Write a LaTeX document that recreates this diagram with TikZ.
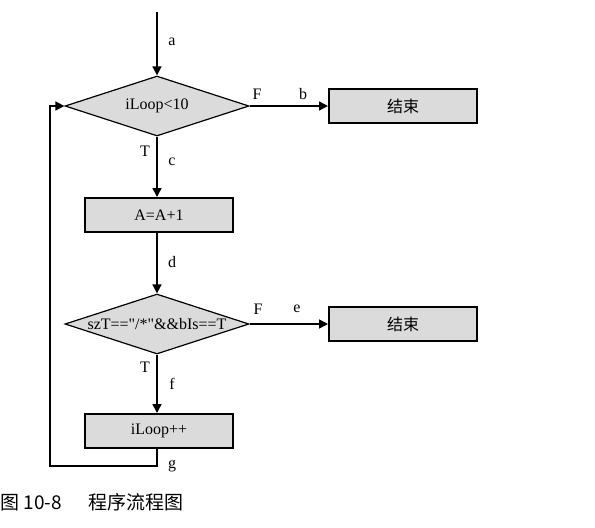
\documentclass[tikz,border=0pt]{standalone}
\usepackage{fontspec}
\setmainfont{Liberation Serif}
\newfontfamily\cjk{Noto Sans CJK SC}
\usetikzlibrary{positioning,arrows.meta,shapes.geometric}

\begin{document}
\begin{tikzpicture}[x=0.5pt,y=-0.5pt,font=\fontsize{8}{9.5}\selectfont,
    box/.style={draw,line width=1pt,fill=gray!28,minimum width=74pt,minimum height=17pt,inner sep=0pt},
    cond/.style={diamond,draw,line width=0.6pt,fill=gray!28,minimum width=92pt,minimum height=30pt,aspect=3,inner sep=0pt},
    flow/.style={line width=0.75pt,-{Triangle[length=4.5pt,width=4.5pt]}},
    lbl/.style={inner sep=0pt}]
  \useasboundingbox (0,0) rectangle (595,527);
  % uzly
  \coordinate (start) at (157,12);
  \node[cond] (loop) at (157,106) {iLoop<10};
  \node[box] (end1) at (403,106) {\cjk 结束};
  \node[box] (inc) at (159,215) {A=A+1};
  \node[cond] (test) at (157,324) {szT==\textquotedbl/*\textquotedbl\&\&bIs==T};
  \node[box] (end2) at (403,324) {\cjk 结束};
  \node[box] (next) at (159,431) {iLoop++};
  \coordinate (g1) at (157,466);
  \coordinate (g2) at (50,466);
  \coordinate (g3) at (50,106);
  % spojnice
  \draw[flow] (start) -- (loop.north);
  \draw[flow] (loop.east) -- (end1.west);
  \draw[flow] (loop.south) -- (inc.north -| loop.south);
  \draw[flow] (inc.south -| test.north) -- (test.north);
  \draw[flow] (test.east) -- (end2.west);
  \draw[flow] (test.south) -- (next.north -| test.south);
  \draw[flow] (next.south -| g1) -- (g1) -- (g2) -- (g3) -- (loop.west);
  % popisky
  \node[lbl] at (172,42) {a};
  \node[lbl] at (257,94) {F};
  \node[lbl] at (303,94) {b};
  \node[lbl] at (145,151) {T};
  \node[lbl] at (172,162) {c};
  \node[lbl] at (172,262) {d};
  \node[lbl] at (258,309) {F};
  \node[lbl] at (297,309) {e};
  \node[lbl] at (145,367) {T};
  \node[lbl] at (172,384) {f};
  \node[lbl] at (172,466) {g};
  \node[lbl,anchor=west,font=\fontsize{9.5}{11}\selectfont] (cap) at (0,502) {\cjk 图 10-8\hspace{1.4em}程序流程图};
\end{tikzpicture}
\end{document}
